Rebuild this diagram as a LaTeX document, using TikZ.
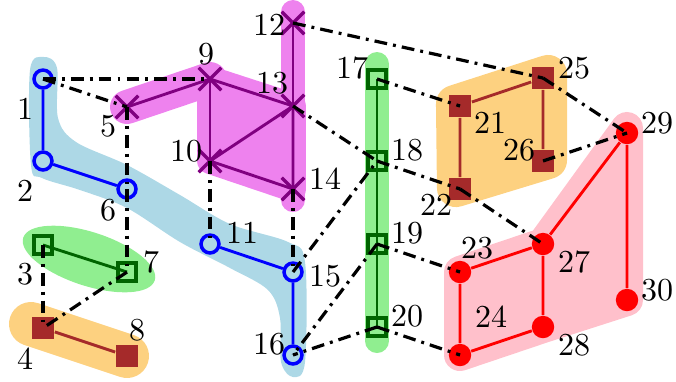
\documentclass[tikz,border=0pt]{standalone}
\usetikzlibrary{shapes.misc}
\definecolor{bandblue}{RGB}{173,216,230}
\definecolor{bandviolet}{RGB}{238,130,238}
\definecolor{bandgreen}{RGB}{144,238,144}
\definecolor{bandorange}{RGB}{253,209,128}
\definecolor{bandpink}{RGB}{255,192,203}
\definecolor{ptpurple}{RGB}{128,0,128}
\definecolor{ptgreen}{RGB}{0,100,0}
\definecolor{ptbrown}{RGB}{165,42,42}
\tikzstyle{bluept}=[circle,draw=blue,line width=1.1pt,minimum size=5.6pt,inner sep=0pt]
\tikzstyle{purplept}=[cross out,draw=ptpurple,line width=1.05pt,minimum size=6pt,inner sep=0pt]
\tikzstyle{greenpt}=[rectangle,draw=ptgreen,line width=1.05pt,minimum size=5.6pt,inner sep=0pt]
\tikzstyle{brownpt}=[rectangle,fill=ptbrown,minimum size=7pt,inner sep=0pt]
\tikzstyle{redpt}=[circle,fill=red,minimum size=7pt,inner sep=0pt]
\tikzstyle{lb}=[inner sep=0pt]
\tikzstyle{band}=[line cap=round,line join=round]
\tikzstyle{link}=[line width=0.9pt,line join=round]
\tikzstyle{dd}=[black,line width=1pt,dash pattern=on 4pt off 1.9pt on 0.9pt off 1.9pt]

\begin{document}
\begin{tikzpicture}[x=0.3125pt,y=-0.3125pt]
\useasboundingbox (0,0) rectangle (676,381);

% highlighted groups
\fill[bandblue] plot[smooth cycle,tension=0.55] coordinates {(44,57) (57,68) (58,118) (76,142) (127,165)
  (180,195) (230,224) (288,242) (305,262) (305,362) (293,377) (281,362) (280,318) (268,290)
  (230,268) (180,242) (127,208) (80,190) (42,178) (31,165) (30,70)};
\fill[bandgreen,rotate around={-18:(89,259)}] (89,259) ellipse (21.6pt and 8.4pt);
\draw[bandorange,band,line width=13.75pt] (31,324) -- (127,356);
\draw[bandviolet,band,line width=7.5pt] (293,12) -- (293,200);
\draw[bandviolet,band,line width=10.6pt] (127,107) -- (210,79);
\filldraw[bandviolet,band,line width=8.1pt] (210,79) -- (293,106) -- (293,189) -- (210,161) -- cycle;
\draw[bandgreen,band,line width=7.5pt] (377,64) -- (377,341);
\filldraw[bandorange,band,line width=11.9pt] (455,104) -- (548,74) -- (548,160) -- (456,188) -- cycle;
\filldraw[bandpink,band,line width=10pt] (460,272) -- (460,355) -- (543,327) -- (627,300) -- (627,128) -- (543,244) -- cycle;

% points
\node[bluept] (n1) at (43,79) {};
\node[bluept] (n2) at (43,161) {};
\node[greenpt] (n3) at (43,245) {};
\node[brownpt] (n4) at (43,328) {};
\node[purplept] (n5) at (127,107) {};
\node[bluept] (n6) at (127,189) {};
\node[greenpt] (n7) at (127,272) {};
\node[brownpt] (n8) at (127,356) {};
\node[purplept] (n9) at (210,79) {};
\node[purplept] (n10) at (210,161) {};
\node[bluept] (n11) at (210,244) {};
\node[purplept] (n12) at (293,23) {};
\node[purplept] (n13) at (293,106) {};
\node[purplept] (n14) at (293,189) {};
\node[bluept] (n15) at (293,272) {};
\node[bluept] (n16) at (293,355) {};
\node[greenpt] (n17) at (377,79) {};
\node[greenpt] (n18) at (377,161) {};
\node[greenpt] (n19) at (377,244) {};
\node[greenpt] (n20) at (377,327) {};
\node[brownpt] (n21) at (460,106) {};
\node[brownpt] (n22) at (460,189) {};
\node[redpt] (n23) at (460,272) {};
\node[redpt] (n24) at (460,355) {};
\node[brownpt] (n25) at (543,78) {};
\node[brownpt] (n26) at (543,161) {};
\node[redpt] (n27) at (543,244) {};
\node[redpt] (n28) at (543,327) {};
\node[redpt] (n29) at (627,133) {};
\node[redpt] (n30) at (627,300) {};

% numbers
\node[lb] (l1) at ([shift={(-18,30)}]n1) {1};
\node[lb] (l2) at ([shift={(-18,30)}]n2) {2};
\node[lb] (l3) at ([shift={(-18,29)}]n3) {3};
\node[lb] (l4) at ([shift={(-18,31)}]n4) {4};
\node[lb] (l5) at ([shift={(-19,19)}]n5) {5};
\node[lb] (l6) at ([shift={(-19,21)}]n6) {6};
\node[lb] (l7) at ([shift={(24,-10)}]n7) {7};
\node[lb] (l8) at ([shift={(10,-26)}]n8) {8};
\node[lb] (l9) at ([shift={(-4,-25)}]n9) {9};
\node[lb] (l10) at ([shift={(-24,-10)}]n10) {10};
\node[lb] (l11) at ([shift={(32,-11)}]n11) {11};
\node[lb] (l12) at ([shift={(-24,2)}]n12) {12};
\node[lb] (l13) at ([shift={(-21,-23)}]n13) {13};
\node[lb] (l14) at ([shift={(32,-10)}]n14) {14};
\node[lb] (l15) at ([shift={(32,4)}]n15) {15};
\node[lb] (l16) at ([shift={(-24,-11)}]n16) {16};
\node[lb] (l17) at ([shift={(-25,-11)}]n17) {17};
\node[lb] (l18) at ([shift={(30,-11)}]n18) {18};
\node[lb] (l19) at ([shift={(30,-11)}]n19) {19};
\node[lb] (l20) at ([shift={(30,-11)}]n20) {20};
\node[lb] (l21) at ([shift={(30,17)}]n21) {21};
\node[lb] (l22) at ([shift={(-24,16)}]n22) {22};
\node[lb] (l23) at ([shift={(17,-24)}]n23) {23};
\node[lb] (l24) at ([shift={(31,-38)}]n24) {24};
\node[lb] (l25) at ([shift={(31,-10)}]n25) {25};
\node[lb] (l26) at ([shift={(-24,-11)}]n26) {26};
\node[lb] (l27) at ([shift={(31,18)}]n27) {27};
\node[lb] (l28) at ([shift={(31,18)}]n28) {28};
\node[lb] (l29) at ([shift={(30,-10)}]n29) {29};
\node[lb] (l30) at ([shift={(30,-10)}]n30) {30};

% links inside groups
\draw[link,blue] (n1) -- (n2) -- (n6);
\draw[link,blue] (n11) -- (n15) -- (n16);
\draw[link,ptgreen] (n3.center) -- (n7.center);
\draw[link,ptgreen] (n17.center) -- (n20.center);
\draw[link,ptbrown] (n4) -- (n8);
\draw[link,ptbrown] (n22) -- (n21) -- (n25) -- (n26);
\draw[link,ptpurple] (n5.center) -- (n9.center) -- (n13.center) -- (n10.center) -- (n14.center) -- (n13.center);
\draw[link,ptpurple] (n9.center) -- (n10.center);
\draw[link,ptpurple] (n12.center) -- (n13.center);
\draw[link,red] (n24) -- (n23) -- (n27) -- (n29) -- (n30);
\draw[link,red] (n24) -- (n28) -- (n27);

% links between groups
\draw[dd] (n1.center) -- (n9.center);
\draw[dd] (n1.center) -- (n5.center);
\draw[dd] (n5.center) -- (n6.center);
\draw[dd] (n6.center) -- (n7.center);
\draw[dd] (n3.center) -- (n4.center);
\draw[dd] (n7.center) -- (n4.center);
\draw[dd] (n10.center) -- (n11.center);
\draw[dd] (n14.center) -- (n15.center);
\draw[dd] (n12.center) -- (n25.center);
\draw[dd] (n13.center) -- (n18.center);
\draw[dd] (n15.center) -- (n18.center);
\draw[dd] (n19.center) -- (n16.center);
\draw[dd] (n20.center) -- (n16.center);
\draw[dd] (n17.center) -- (n21.center);
\draw[dd] (n18.center) -- (n22.center);
\draw[dd] (n22.center) -- (n27.center);
\draw[dd] (n19.center) -- (n23.center);
\draw[dd] (n20.center) -- (n24.center);
\draw[dd] (n25.center) -- (n29.center);
\draw[dd] (n26.center) -- (n29.center);
\end{tikzpicture}
\end{document}
